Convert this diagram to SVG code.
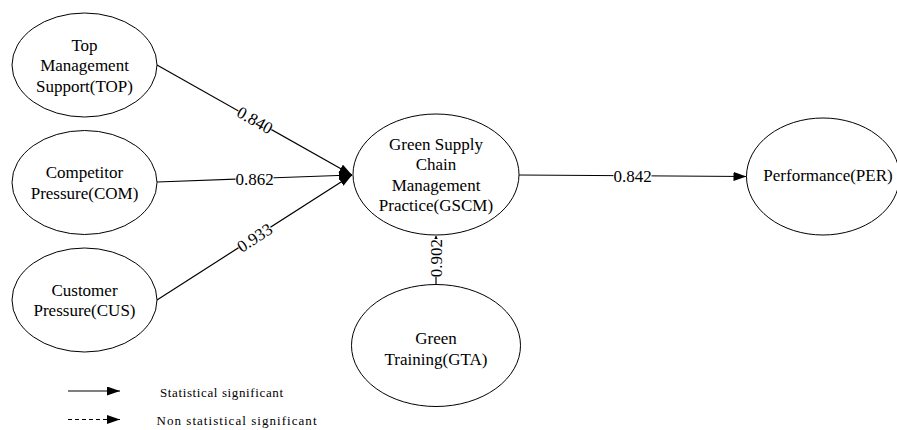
<svg xmlns="http://www.w3.org/2000/svg" width="897" height="430" viewBox="0 0 897 430">
<style>
.n{fill:#fff;stroke:#000;stroke-width:1}
text{font-family:'Liberation Serif','DejaVu Serif',serif;fill:#000}
.t{font-size:17px;text-anchor:middle}
.l{font-size:17px;text-anchor:middle}
.e{stroke:#000;stroke-width:1.2;fill:none}
.bg{fill:#fff}
.lg{font-size:13px}
</style>
<defs>
<marker id="a" markerUnits="userSpaceOnUse" markerWidth="13" markerHeight="9" refX="13" refY="4.5" orient="auto">
<path d="M0,0 L13,4.5 L0,9 z" fill="#000"/>
</marker>
<marker id="s" markerUnits="userSpaceOnUse" markerWidth="6" markerHeight="6" refX="5" refY="3" orient="auto">
<path d="M0,0 L5,3 L0,6 z" fill="#000"/>
</marker>
</defs>
<g id="connectors">
<line class="e" x1="157" y1="65" x2="352" y2="175" marker-end="url(#a)"/>
<line class="e" x1="157" y1="182" x2="352" y2="175" marker-end="url(#a)"/>
<line class="e" x1="157" y1="300" x2="352" y2="175" marker-end="url(#a)"/>
<line class="e" x1="519" y1="175" x2="746.5" y2="176.5" marker-end="url(#a)"/>
<line class="e" x1="436" y1="284" x2="436" y2="236" marker-end="url(#s)"/>
<g transform="translate(255,120) rotate(29.4)"><rect class="bg" x="-19" y="-8" width="38" height="15"/><text class="l" x="0" y="6" font-family="Liberation Serif, serif">0.840</text></g>
<g transform="translate(254.5,179)"><rect class="bg" x="-19" y="-8" width="38" height="15"/><text class="l" x="0" y="6" font-family="Liberation Serif, serif">0.862</text></g>
<g transform="translate(254.5,237.5) rotate(-32.7)"><rect class="bg" x="-19" y="-8" width="38" height="15"/><text class="l" x="0" y="6" font-family="Liberation Serif, serif">0.933</text></g>
<g transform="translate(632.5,175.5)"><rect class="bg" x="-19" y="-8" width="38" height="15"/><text class="l" x="0" y="6" font-family="Liberation Serif, serif">0.842</text></g>
<g transform="translate(436,258) rotate(-90)"><rect class="bg" x="-19" y="-8" width="38" height="15"/><text class="l" x="0" y="6" font-family="Liberation Serif, serif">0.902</text></g>
</g>
<g id="TOP" font-family="Liberation Serif, serif"><ellipse class="n" cx="84.5" cy="65" rx="72.5" ry="52"/>
<text class="t" x="84.5" y="50.5">Top</text><text class="t" x="84.5" y="71">Management</text><text class="t" x="84.5" y="91.5">Support(TOP)</text></g>
<g id="COM"><ellipse class="n" cx="84.5" cy="182.5" rx="72.5" ry="52"/>
<text class="t" x="84.5" y="178">Competitor</text><text class="t" x="84.5" y="198.5">Pressure(COM)</text></g>
<g id="CUS"><ellipse class="n" cx="84.5" cy="300" rx="72.5" ry="52"/>
<text class="t" x="84.5" y="295.5">Customer</text><text class="t" x="84.5" y="316">Pressure(CUS)</text></g>
<g id="GSCM"><ellipse class="n" cx="436" cy="174.5" rx="83" ry="60.5"/>
<text class="t" x="436" y="150">Green Supply</text><text class="t" x="436" y="170.3">Chain</text><text class="t" x="436" y="190.6">Management</text><text class="t" x="436" y="211">Practice(GSCM)</text></g>
<g id="GTA"><ellipse class="n" cx="436" cy="345.5" rx="84.5" ry="61"/>
<text class="t" x="436" y="344">Green</text><text class="t" x="436" y="364.5">Training(GTA)</text></g>
<g id="PER"><ellipse class="n" cx="823" cy="176.5" rx="76.5" ry="58.5"/>
<text class="t" x="828" y="181">Performance(PER)</text></g>
<g id="legend">
<line class="e" x1="68" y1="391" x2="120" y2="391" marker-end="url(#a)"/>
<line class="e" x1="68" y1="419.5" x2="120" y2="419.5" stroke-dasharray="4,3" marker-end="url(#a)"/>
<text class="lg" x="160" y="396.5" textLength="123" lengthAdjust="spacing">Statistical significant</text>
<text class="lg" x="156.5" y="425" textLength="160" lengthAdjust="spacing">Non statistical significant</text>
</g>
</svg>
